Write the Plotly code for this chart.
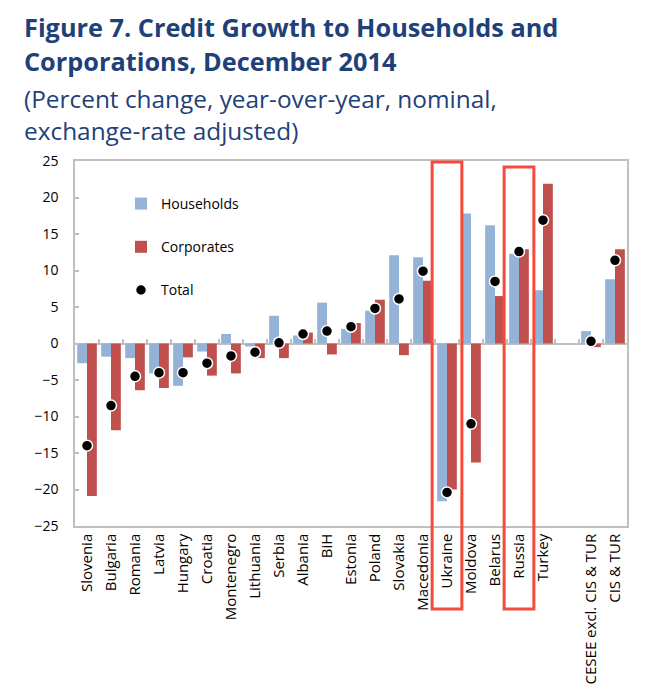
import plotly.graph_objects as go

categories = ["Slovenia", "Bulgaria", "Romania", "Latvia", "Hungary", "Croatia",
              "Montenegro", "Lithuania", "Serbia", "Albania", "BiH", "Estonia",
              "Poland", "Slovakia", "Macedonia", "Ukraine", "Moldova", "Belarus",
              "Russia", "Turkey", " ", "CESEE excl. CIS & TUR", "CIS & TUR"]
households = [-2.7, -1.8, -2.0, -4.1, -5.8, -1.1, 1.3, -0.4, 3.8, 1.1, 5.6, 2.0,
              4.5, 12.1, 11.8, -21.6, 17.8, 16.2, 12.3, 7.3, None, 1.7, 8.8]
corporates = [-20.9, -11.9, -6.4, -6.1, -1.9, -4.4, -4.1, -2.0, -2.0, 1.5, -1.5, 2.8,
              6.0, -1.6, 8.6, -20.0, -16.3, 6.5, 12.9, 21.9, None, -0.5, 12.9]
total = [-14.0, -8.5, -4.5, -4.0, -4.0, -2.7, -1.7, -1.2, 0.1, 1.3, 1.7, 2.3,
         4.8, 6.1, 9.9, -20.4, -11.0, 8.5, 12.6, 16.9, None, 0.3, 11.4]
highlighted = ["Ukraine", "Russia"]
y_ticks = [25, 20, 15, 10, 5, 0, -5, -10, -15, -20, -25]

HH_COLOR = "#95B3D7"
CORP_COLOR = "#C0504D"
AXIS_GRAY = "#BFBFBF"
TITLE_COLOR = "#1F4179"
FONT = "Open Sans"

OFF = 8  # page body margin
W, H = 645 - 2 * OFF, 695 - 2 * OFF
PLOT_L, PLOT_R, PLOT_T, PLOT_B = 75 - OFF, 627 - OFF, 161 - OFF, 526 - OFF
L, R, T, B = PLOT_L, W - PLOT_R, PLOT_T, H - PLOT_B
plot_w = PLOT_R - PLOT_L
plot_h = PLOT_B - PLOT_T

def py(ref_pix):
    return (PLOT_B - (ref_pix - OFF)) / plot_h

def px(ref_pix):
    return ((ref_pix - OFF) - PLOT_L) / plot_w

fig = go.Figure()
fig.add_trace(go.Bar(x=categories, y=households, name="Households",
                     marker=dict(color=HH_COLOR, line=dict(width=0)),
                     legendgroup="a"))
fig.add_trace(go.Bar(x=categories, y=corporates, name="Corporates",
                     marker=dict(color=CORP_COLOR, line=dict(width=0)),
                     legendgroup="b"))
fig.add_trace(go.Scatter(x=categories, y=total, name="Total", mode="markers",
                         xaxis="x2",
                         marker=dict(color="black", size=11,
                                     line=dict(color="white", width=1.5)),
                         legendgroup="c"))

shapes = []
tops = {"Ukraine": py(162), "Russia": py(167)}
for name in highlighted:
    i = categories.index(name)
    shapes.append(dict(type="rect", xref="x", yref="paper",
                       x0=i - 0.62, x1=i + 0.62, y0=py(609), y1=tops[name],
                       line=dict(color="#F44B3B", width=3), layer="above"))

title_lines = [
    ("<b>Figure 7. Credit Growth to Households and</b>", 36, 25.3),
    ("<b>Corporations, December 2014</b>", 70, 25.3),
    ("(Percent change, year-over-year, nominal,", 107, 24.4),
    ("exchange-rate adjusted)", 139, 24.4),
]
annotations = []
for text, base, fs in title_lines:
    annotations.append(dict(text=text, xref="paper", yref="paper",
                            x=px(22), xanchor="left",
                            y=py(base - 0.35 * fs), yanchor="middle",
                            showarrow=False,
                            font=dict(family=FONT, size=fs, color=TITLE_COLOR)))

n = len(categories)
fig.update_layout(
    width=W, height=H,
    margin=dict(l=L, r=R, t=T, b=B, autoexpand=False),
    paper_bgcolor="white", plot_bgcolor="white",
    barmode="group", bargap=0.18, bargroupgap=0,
    font=dict(family=FONT, size=14, color="black"),
    showlegend=True,
    legend=dict(x=px(121), y=py(188), xanchor="left", yanchor="top",
                bgcolor="rgba(0,0,0,0)", tracegroupgap=22,
                font=dict(family=FONT, size=14, color="black")),
    xaxis=dict(type="category", categoryorder="array", categoryarray=categories,
               range=[-0.5, n - 0.5], autorange=False,
               tickangle=-90, showline=True, mirror=True, linecolor=AXIS_GRAY,
               linewidth=1.5, ticks="", showgrid=False, zeroline=False,
               automargin=False,
               tickfont=dict(family=FONT, size=15, color="black")),
    xaxis2=dict(type="category", categoryorder="array", categoryarray=categories,
                overlaying="x", matches="x", anchor="free", position=0.5,
                showticklabels=False, showline=False, showgrid=False,
                ticks="inside", tickson="boundaries", ticklen=5,
                tickcolor=AXIS_GRAY, tickwidth=1.5, zeroline=False),
    yaxis=dict(range=[-25, 25], autorange=False, tickvals=y_ticks, showline=True,
               mirror=True, automargin=False,
               linecolor=AXIS_GRAY, linewidth=1.5, ticks="inside", ticklen=4,
               tickcolor=AXIS_GRAY, tickwidth=1.5, showgrid=False,
               zeroline=True, zerolinecolor=AXIS_GRAY, zerolinewidth=1.5,
               ticklabelstandoff=12,
               tickfont=dict(family=FONT, size=14, color="black")),
    shapes=shapes,
    annotations=annotations,
)

fig.write_html("out.html")
